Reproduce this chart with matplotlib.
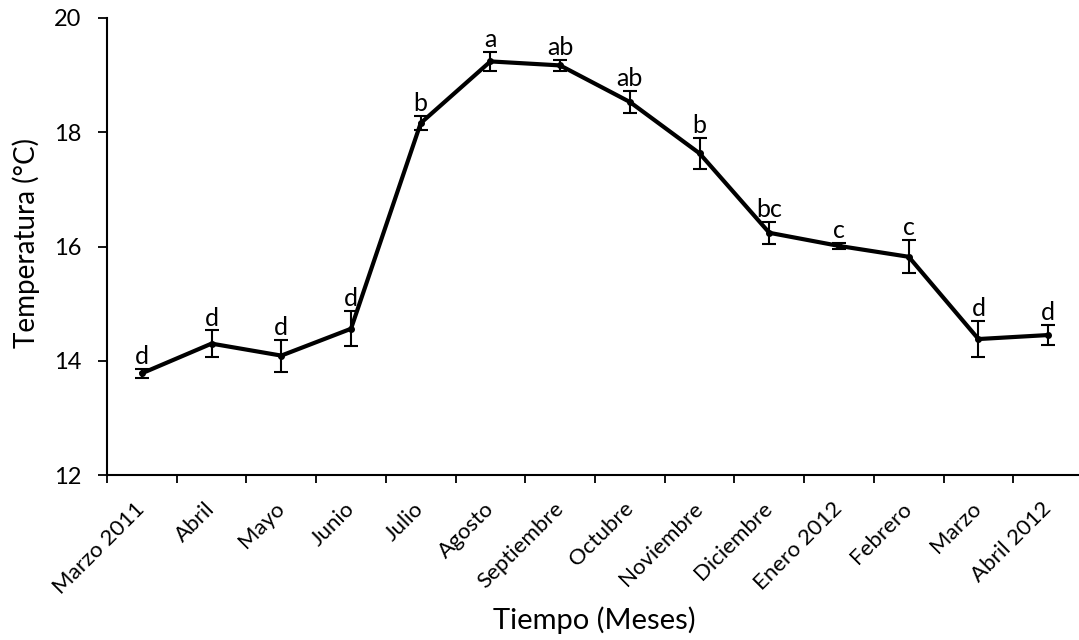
import matplotlib
matplotlib.use("Agg")
import matplotlib.pyplot as plt
import numpy as np

months = ["Marzo 2011", "Abril", "Mayo", "Junio", "Julio", "Agosto", "Septiembre",
          "Octubre", "Noviembre", "Diciembre", "Enero 2012", "Febrero", "Marzo", "Abril 2012"]
temperature = [13.78, 14.30, 14.09, 14.56, 18.16, 19.24, 19.17,
               18.53, 17.63, 16.24, 16.01, 15.82, 14.38, 14.45]
errors = [0.08, 0.23, 0.28, 0.31, 0.12, 0.17, 0.10,
          0.20, 0.27, 0.19, 0.05, 0.29, 0.31, 0.18]
letters = ["d", "d", "d", "d", "b", "a", "ab", "ab", "b", "bc", "c", "c", "d", "d"]

plt.rcParams['font.family'] = ['Lato', 'DejaVu Sans']

fig = plt.figure(figsize=(10.79, 6.40), dpi=100)
ax = fig.add_axes([107/1079, 1-475/640, (1083-107)/1079, (475-18)/640])

x = np.arange(len(months))
ax.errorbar(x, temperature, yerr=errors, color='black', lw=3, marker='o', ms=4,
            ecolor='black', elinewidth=1.5, capsize=5, capthick=1.5)

for xi, yi, ei, lt in zip(x, temperature, errors, letters):
    ax.annotate(lt, (xi, yi + ei), xytext=(0, 3.5), textcoords='offset points',
                ha='center', va='baseline', fontsize=18)

ax.set_xlim(-0.5, len(months) - 0.5)
ax.set_ylim(12, 20)
ax.set_yticks([12, 14, 16, 18, 20])
ax.tick_params(axis='y', labelsize=17, direction='out', length=6.5, width=1.3, pad=12)

ax.set_xticks(np.arange(-0.5, len(months)), minor=False)
ax.set_xticklabels([])
ax.set_xticks(x, minor=True)
ax.set_xticklabels(months, minor=True, rotation=45, ha='right', va='center',
                   rotation_mode='anchor', fontsize=16)
ax.tick_params(axis='x', which='major', direction='out', length=6, width=1.3)
ax.tick_params(axis='x', which='minor', length=0, pad=22)

for s in ['top', 'right']:
    ax.spines[s].set_visible(False)
for s in ['left', 'bottom']:
    ax.spines[s].set_linewidth(1.5)

fig.text(26/1079, 1-243/640, "Temperatura (°C)", rotation=90, ha='center', va='center', fontsize=20)
fig.text(594/1079, 1-620/640, "Tiempo (Meses)", ha='center', va='center', fontsize=21)

fig.savefig("out.png", dpi=100)
